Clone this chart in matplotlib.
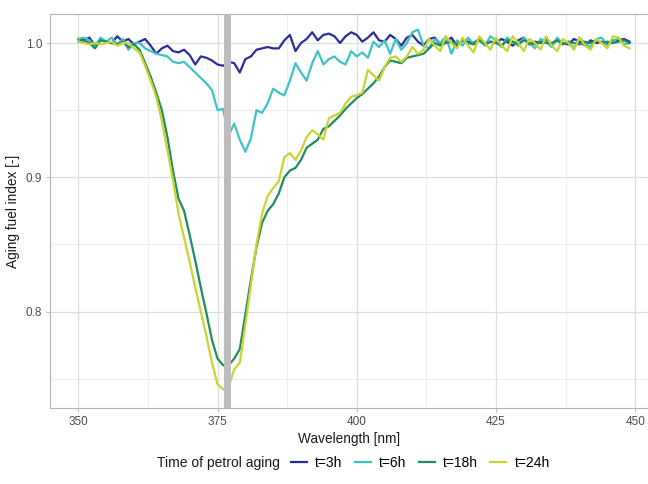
import matplotlib
matplotlib.use("Agg")
import matplotlib.pyplot as plt
import numpy as np

wavelength = list(range(350, 450))

t3h = [1.003, 1.002, 1.004, 0.998, 1.003, 1.001, 1.000, 1.005, 1.001, 1.003,
       0.999, 1.001, 1.003, 0.998, 0.992, 0.996, 0.998, 0.994, 0.993, 0.995,
       0.991, 0.984, 0.990, 0.989, 0.987, 0.984, 0.983, 0.986, 0.985, 0.978,
       0.988, 0.990, 0.995, 0.996, 0.997, 0.996, 0.996, 1.002, 1.006, 0.994,
       1.000, 1.003, 1.008, 1.002, 1.006, 1.007, 1.005, 1.000, 1.005, 1.008,
       1.006, 1.001, 1.004, 1.008, 1.002, 1.001, 1.006, 1.003, 0.998, 1.004,
       1.006, 1.001, 0.998, 1.003, 1.004, 0.999, 1.001, 1.004, 0.998, 1.002,
       1.001, 1.000, 1.003, 0.999, 1.001, 1.000, 1.003, 1.001, 0.998, 1.002,
       1.004, 0.999, 1.001, 1.000, 1.003, 0.999, 1.002, 1.000, 0.999, 1.003,
       1.001, 0.998, 1.002, 1.000, 1.001, 0.999, 1.002, 1.002, 1.003, 1.001]

t6h = [1.003, 1.004, 1.002, 0.997, 1.004, 1.001, 1.004, 0.999, 1.003, 0.995,
       1.000, 1.000, 0.996, 0.994, 0.992, 0.991, 0.990, 0.986, 0.985, 0.986,
       0.982, 0.978, 0.974, 0.970, 0.965, 0.950, 0.951, 0.931, 0.940, 0.928,
       0.919, 0.929, 0.950, 0.948, 0.955, 0.966, 0.963, 0.961, 0.972, 0.985,
       0.978, 0.972, 0.985, 0.994, 0.984, 0.988, 0.990, 0.986, 0.984, 0.994,
       0.990, 0.993, 0.989, 1.001, 0.997, 1.002, 0.992, 1.003, 0.995, 1.000,
       1.008, 1.010, 0.998, 0.996, 1.003, 1.000, 1.005, 0.992, 1.002, 0.998,
       1.004, 0.999, 1.003, 0.998, 1.005, 1.002, 0.997, 1.004, 1.001, 0.998,
       1.004, 1.000, 0.996, 1.003, 1.001, 0.997, 1.004, 0.999, 1.001, 0.996,
       1.004, 1.000, 0.997, 1.003, 1.004, 0.998, 1.001, 1.004, 0.999, 1.000]

t18h = [1.001, 1.002, 1.000, 0.996, 1.002, 1.001, 1.000, 0.999, 1.001, 0.997,
        0.999, 0.995, 0.985, 0.975, 0.963, 0.950, 0.930, 0.905, 0.884, 0.875,
        0.857, 0.838, 0.818, 0.799, 0.779, 0.765, 0.760, 0.760, 0.765, 0.772,
        0.798, 0.824, 0.848, 0.866, 0.875, 0.880, 0.888, 0.900, 0.905, 0.907,
        0.913, 0.922, 0.925, 0.928, 0.936, 0.938, 0.942, 0.946, 0.951, 0.955,
        0.959, 0.962, 0.966, 0.970, 0.975, 0.982, 0.987, 0.986, 0.985, 0.989,
        0.990, 0.991, 0.992, 0.996, 1.000, 0.998, 1.000, 1.001, 0.999, 1.002,
        1.000, 0.999, 1.002, 0.999, 1.001, 1.000, 0.998, 1.002, 1.001, 0.999,
        1.002, 1.000, 0.999, 1.001, 1.000, 1.000, 1.002, 0.999, 1.001, 1.000,
        0.999, 1.001, 1.000, 1.002, 1.000, 1.001, 1.000, 1.001, 1.002, 1.000]

t24h = [1.001, 1.000, 0.999, 1.000, 0.999, 1.000, 1.001, 0.998, 1.000, 1.000,
        0.996, 0.993, 0.983, 0.972, 0.960, 0.942, 0.920, 0.898, 0.873, 0.855,
        0.837, 0.818, 0.800, 0.782, 0.762, 0.746, 0.742, 0.744, 0.757, 0.762,
        0.790, 0.820, 0.850, 0.873, 0.886, 0.892, 0.897, 0.915, 0.918, 0.913,
        0.920, 0.930, 0.935, 0.932, 0.928, 0.944, 0.946, 0.948, 0.955, 0.960,
        0.961, 0.963, 0.980, 0.976, 0.972, 0.982, 0.989, 0.990, 0.986, 0.990,
        0.997, 0.992, 0.995, 1.003, 0.998, 0.994, 1.005, 1.000, 0.996, 1.004,
        0.998, 0.993, 1.005, 1.000, 0.995, 1.004, 0.998, 0.994, 1.005, 1.000,
        0.994, 1.003, 1.000, 0.995, 1.005, 0.998, 0.994, 1.003, 1.000, 0.995,
        1.004, 0.998, 0.995, 1.003, 1.000, 0.996, 1.005, 1.004, 0.998, 0.996]

series = [("t=3h", t3h, "#2b2d9b"),
          ("t=6h", t6h, "#3ec3c6"),
          ("t=18h", t18h, "#218c5c"),
          ("t=24h", t24h, "#c9d433")]

legend_title = "Time of petrol aging"
x_ticks = [350, 375, 400, 425, 450]
y_ticks = [0.8, 0.9, 1.0]
marker_band = (376.2, 377.35)

plt.rcParams['font.family'] = ['Liberation Sans', 'DejaVu Sans']

fig = plt.figure(figsize=(6.48, 4.84), dpi=100)
W, H = 648, 484
ax = fig.add_axes([50 / W, 1 - 408 / H, (648 - 50) / W, (408 - 14) / H])

ax.set_xlim(344.92, 452.3)
ax.set_ylim(0.7282, 1.0216)

# grid
for xv in [362.5, 387.5, 412.5, 437.5]:
    ax.axvline(xv, color="#ebebeb", lw=0.6, zorder=0)
for yv in [0.75, 0.85, 0.95]:
    ax.axhline(yv, color="#ebebeb", lw=0.6, zorder=0)
for xv in x_ticks:
    ax.axvline(xv, color="#dedede", lw=0.9, zorder=0)
for yv in y_ticks:
    ax.axhline(yv, color="#dedede", lw=0.9, zorder=0)

handles = []
for name, vals, col in series:
    h, = ax.plot(wavelength, vals, color=col, lw=1.6, label=name, zorder=2,
                 solid_joinstyle="round")
    handles.append(h)

ax.axvspan(marker_band[0], marker_band[1], color="#bdbdbd", lw=0, zorder=3)

ax.set_xticks(x_ticks)
ax.set_xticklabels([str(v) for v in x_ticks])
ax.set_yticks(y_ticks)
ax.set_yticklabels([f"{v:.1f}" for v in y_ticks])
ax.tick_params(axis="both", colors="#b3b3b3", length=3, width=0.6,
               labelsize=8.5, labelcolor="#4d4d4d", pad=2.5)

for side in ["left", "bottom", "top"]:
    ax.spines[side].set_color("#b3b3b3")
    ax.spines[side].set_linewidth(0.8)
ax.spines["right"].set_visible(False)

ax.set_xlabel("Wavelength [nm]", fontsize=9.8, color="#1a1a1a", labelpad=3)
ax.set_ylabel("Aging fuel index [-]", fontsize=9.8, color="#1a1a1a", labelpad=4)

fig.text(157 / W, 1 - 463 / H, legend_title, fontsize=10, color="#1a1a1a",
         ha="left", va="center")
fig.legend(handles=handles, labels=[s[0] for s in series], ncol=4,
           loc="center left", bbox_to_anchor=(291 / W, 1 - 463 / H),
           frameon=False, fontsize=10, handlelength=1.15, handletextpad=0.58,
           columnspacing=0.9, borderpad=0, borderaxespad=0)

fig.savefig("out.png", dpi=100)
